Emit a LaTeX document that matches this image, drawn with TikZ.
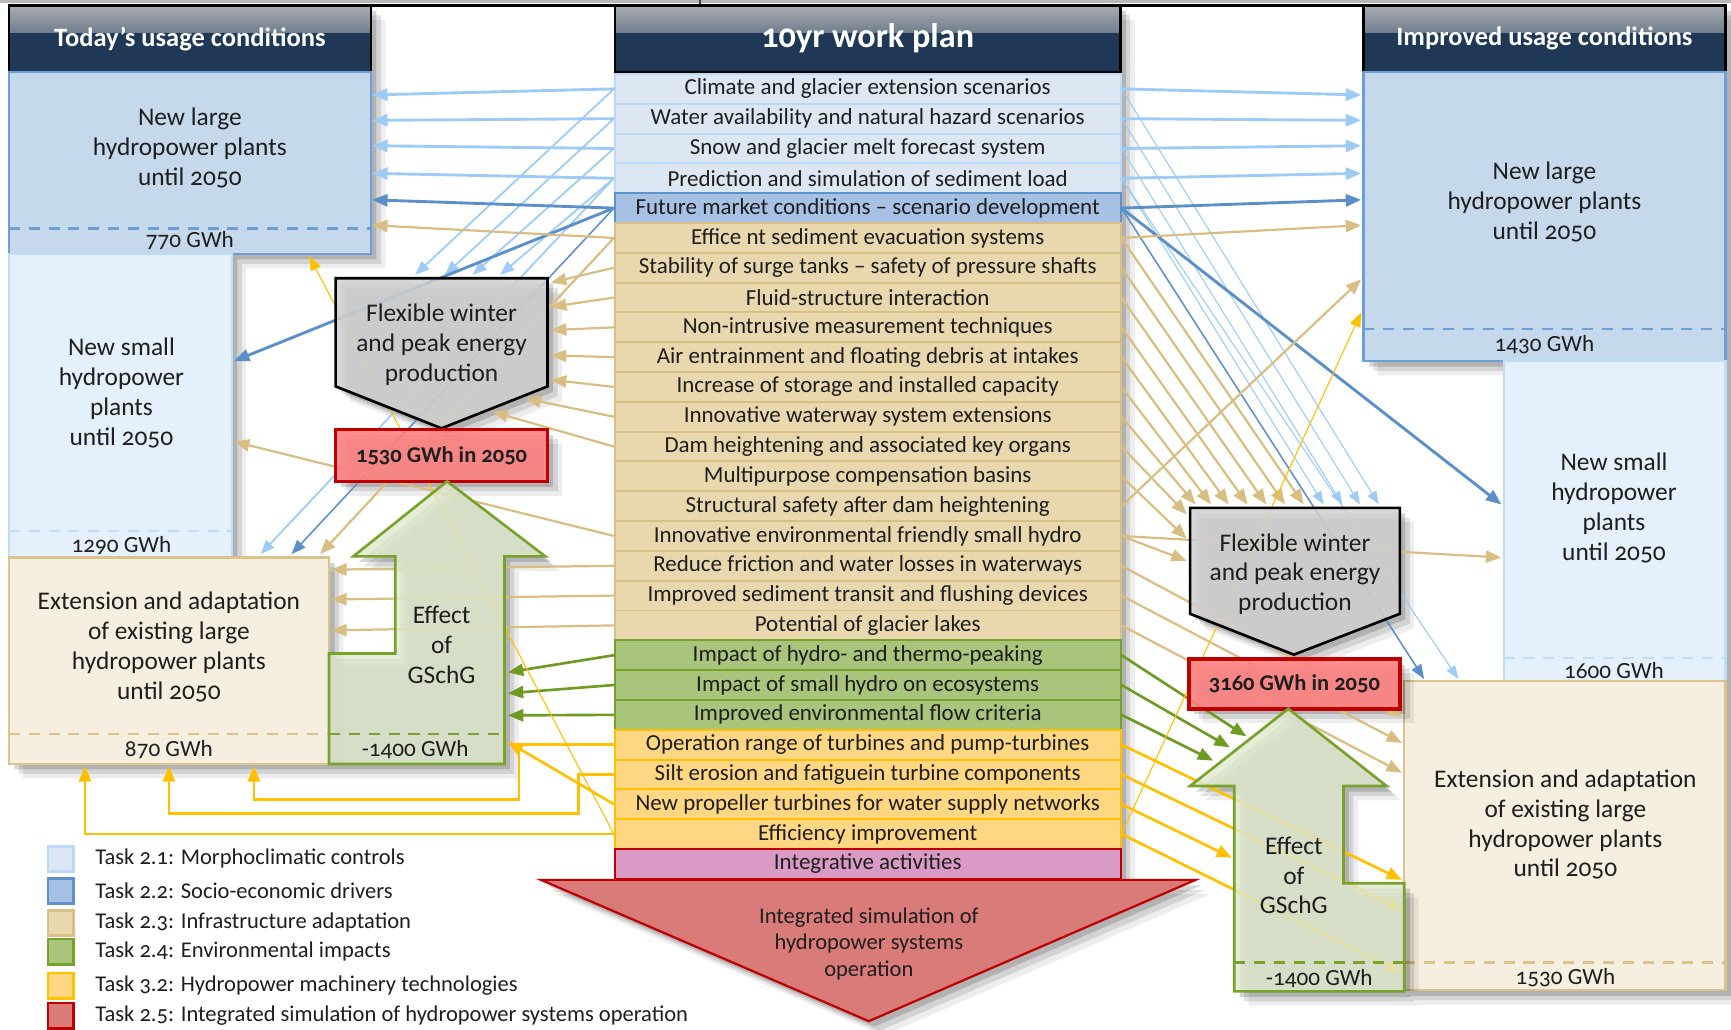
\documentclass[tikz,border=0pt]{standalone}
\usepackage{fontspec}
\setmainfont{Carlito}[Numbers=OldStyle]
\usetikzlibrary{arrows.meta,shadows,calc}

% palette
\definecolor{txt}{HTML}{1E1E1E}
\definecolor{hdrtop}{HTML}{A9ADB3}
\definecolor{hdrbot}{HTML}{1F3856}
\definecolor{c21f}{HTML}{DDE7F4}\definecolor{c21d}{HTML}{BBDAF8}
\definecolor{c22f}{HTML}{A6C1E3}\definecolor{c22d}{HTML}{5E92CB}
\definecolor{c23f}{HTML}{E9D8AE}\definecolor{c23d}{HTML}{D8BF86}
\definecolor{c24f}{HTML}{A9C47B}\definecolor{c24d}{HTML}{76A12B}
\definecolor{c32f}{HTML}{FFD782}\definecolor{c32d}{HTML}{FFC000}
\definecolor{cintf}{HTML}{D99BC6}
\definecolor{c25f}{HTML}{D97B79}\definecolor{c25d}{HTML}{C00000}
\definecolor{nlfill}{HTML}{C5D8EC}\definecolor{nlline}{HTML}{6C9FD3}
\definecolor{nsfill}{HTML}{E4F0FC}\definecolor{nsline}{HTML}{BFDDF9}
\definecolor{exfill}{HTML}{F6EFDF}\definecolor{exline}{HTML}{DCC38C}
\definecolor{gsfill}{HTML}{DFE8CC}\definecolor{gsline}{HTML}{77A22C}
\definecolor{pentfill}{HTML}{D0D0D0}
\definecolor{redfill}{HTML}{FF7F7F}
\definecolor{lbA}{HTML}{9DCBF6}
\definecolor{dbA}{HTML}{5B8FC9}
\definecolor{tanA}{HTML}{D9BE83}
\definecolor{grA}{HTML}{6E9C22}
\definecolor{yeA}{HTML}{FFC000}

% outlines of the free-standing shapes
\newcommand\shpPentL{(304,252) -- (496,252) -- (496,350) -- (400,388) -- (304,350) -- cycle}
\newcommand\shpPentR{(1078,460) -- (1268,460) -- (1268,556) -- (1172,593) -- (1078,556) -- cycle}
\newcommand\shpGsL{(405,436) -- (494,504) -- (457,504) -- (457,692) -- (298,692) -- (298,592) -- (358,592) -- (358,504) -- (320,504) -- cycle}
\newcommand\shpGsR{(1167,642) -- (1256,712) -- (1217,712) -- (1217,800) -- (1272,800) -- (1272,898) -- (1118,898) -- (1118,712) -- (1078,712) -- cycle}
\newcommand\shpRedL{(304,389) rectangle (496,436)}
\newcommand\shpRedR{(1077,597) rectangle (1268,642)}

\begin{document}
\begin{tikzpicture}[x=0.5pt,y=-0.5pt,
  every node/.style={text=txt},
  sh/.style={drop shadow={shadow xshift=2.5pt,shadow yshift=-2.5pt,opacity=.16,fill=black},
             drop shadow={shadow xshift=4.5pt,shadow yshift=-4.5pt,opacity=.11,fill=black},
             drop shadow={shadow xshift=6.5pt,shadow yshift=-6.5pt,opacity=.07,fill=black}},
  hdr/.style={draw=black,line width=1pt,fill=hdrbot,text=white,inner sep=0pt,
    font=\bfseries\fontsize{12}{14}\selectfont,
    path picture={\shade[top color=hdrtop,bottom color=hdrbot]
      (path picture bounding box.north west) rectangle ([yshift=-12pt]path picture bounding box.north east);}},
  rowbase/.style={minimum width=229pt,minimum height=13.5pt,inner sep=0pt,line width=0.9pt,
    font=\fontsize{10.4}{12}\selectfont},
  box/.style={line width=1pt,inner sep=0pt},
  btxt/.style={align=center,font=\fontsize{11.5}{13.5}\selectfont},
  gwh/.style={font=\fontsize{10.5}{12}\selectfont},
  cut/.style={dash pattern=on 5pt off 4pt,line width=1.2pt},
  redbox/.style={fill=redfill,fill opacity=.88,text opacity=1,draw=c25d,line width=1.6pt,
    inner sep=0pt,font=\bfseries\fontsize{10.2}{12}\selectfont},
  legsq/.style={minimum size=11.5pt,inner sep=0pt,line width=1.2pt},
  legtxt/.style={anchor=west,inner sep=0pt,font=\fontsize{10.2}{12}\selectfont},
  lbw/.style={draw=lbA,line width=1.3pt,-{Triangle[length=7pt,width=5.5pt]}},
  lbn/.style={draw=lbA,line width=0.8pt,-{Triangle[length=6.5pt,width=5pt]}},
  lbh/.style={draw=lbA,line width=0.5pt,-{Triangle[length=6pt,width=4.5pt]}},
  dbw/.style={draw=dbA,line width=1.3pt,-{Triangle[length=7pt,width=5.5pt]}},
  dbn/.style={draw=dbA,line width=0.7pt,-{Triangle[length=6.5pt,width=5pt]}},
  tn/.style={draw=tanA,line width=1pt,-{Triangle[length=7pt,width=5.5pt]}},
  gr/.style={draw=grA,line width=1.2pt,-{Triangle[length=7pt,width=5.5pt]}},
  ye/.style={draw=yeA,line width=1.2pt,-{Triangle[length=7pt,width=5.5pt]}},
  yeh/.style={draw=yeA,line width=0.5pt,-{Triangle[length=6.5pt,width=5pt]}}
]
\useasboundingbox (0,0) rectangle (1568,933);

% thin strip along the top edge
\fill[black!28] (0,0) rectangle (1568,3);
\draw[black!75,line width=.8pt] (634,0) -- (634,4);

% backing panels carrying the soft shadows
\path[sh,fill=white] (8,5) -- (336,5) -- (336,230) -- (210,230) -- (210,505) -- (298,505) -- (298,692) -- (8,692) -- cycle;
\path[sh,fill=white] (557,5) rectangle (1015,796);
\path[sh,fill=white] (1235,5) -- (1563,5) -- (1563,897) -- (1272,897) -- (1272,617) -- (1362,617) -- (1362,327) -- (1235,327) -- cycle;
\draw[line width=1pt] (336,5) -- (1235,5);

% column headers
\node[hdr,minimum width=164pt,minimum height=30pt] (hdrL) at (172,35) {Today’s usage conditions};
\node[hdr,minimum width=229pt,minimum height=30pt,font=\bfseries\fontsize{15.5}{18}\selectfont] (hdrM) at (786,35) {10yr work plan};
\node[hdr,minimum width=164pt,minimum height=30pt] (hdrR) at (1399,35) {Improved usage conditions};

% today's usage conditions
\node[box,fill=nlfill,draw=nlline,minimum width=164pt,minimum height=82.5pt] (nlL) at (172,147.5) {};
\node[btxt] (nlLt) at (172,134) {New large\\hydropower plants\\until 2050};
\draw[cut,draw=nlline] (8,207) -- (336,207);
\node[gwh] (nlLg) at (172,218) {770 GWh};

\node[box,fill=nsfill,draw=nsline,minimum width=101pt,minimum height=137.5pt] (nsL) at (109,367.5) {};
\node[btxt] (nsLt) at (110,356) {New small\\hydropower\\plants\\until 2050};
\draw[cut,draw=nsline] (8,481) -- (210,481);
\node[gwh] (nsLg) at (110,494) {1290 GWh};

\node[box,fill=exfill,draw=exline,minimum width=145pt,minimum height=93.5pt] (exL) at (153,598.5) {};
\node[btxt] (exLt) at (153,586) {Extension and adaptation\\of existing large\\hydropower plants\\until 2050};
\draw[cut,draw=exline] (8,665) -- (298,665);
\node[gwh] (exLg) at (153,679) {870 GWh};

% improved usage conditions
\node[box,fill=nlfill,draw=nlline,minimum width=164pt,minimum height=131pt] (nlR) at (1399,196) {};
\node[btxt] (nlRt) at (1399,183) {New large\\hydropower plants\\until 2050};
\draw[cut,draw=nlline] (1235,298) -- (1563,298);
\node[gwh] (nlRg) at (1399,312) {1430 GWh};

\node[box,fill=nsfill,draw=nsline,minimum width=100.5pt,minimum height=145pt] (nsR) at (1462.5,472) {};
\node[btxt] (nsRt) at (1462,460) {New small\\hydropower\\plants\\until 2050};
\draw[cut,draw=nsline] (1362,596) -- (1563,596);
\node[gwh] (nsRg) at (1462,607) {1600 GWh};

\node[box,fill=exfill,draw=exline,minimum width=145.5pt,minimum height=140pt] (exR) at (1417.5,757) {};
\node[btxt] (exRt) at (1418,747) {Extension and adaptation\\of existing large\\hydropower plants\\until 2050};
\draw[cut,draw=exline] (1272,872) -- (1563,872);
\node[gwh] (exRg) at (1418,886) {1530 GWh};

% work plan rows
\foreach \i/\f/\d/\t in {
  1/c21f/c21d/Climate and glacier extension scenarios,
  2/c21f/c21d/Water availability and natural hazard scenarios,
  3/c21f/c21d/Snow and glacier melt forecast system,
  4/c21f/c21d/Prediction and simulation of sediment load,
  5/c22f/c22d/Future market conditions – scenario development,
  6/c23f/c23d/Effice nt sediment evacuation systems,
  7/c23f/c23d/Stability of surge tanks – safety of pressure shafts,
  8/c23f/c23d/Fluid-structure interaction,
  9/c23f/c23d/Non-intrusive measurement techniques,
  10/c23f/c23d/Air entrainment and floating debris at intakes,
  11/c23f/c23d/Increase of storage and installed capacity,
  12/c23f/c23d/Innovative waterway system extensions,
  13/c23f/c23d/Dam heightening and associated key organs,
  14/c23f/c23d/Multipurpose compensation basins,
  15/c23f/c23d/Structural safety after dam heightening,
  16/c23f/c23d/Innovative environmental friendly small hydro,
  17/c23f/c23d/Reduce friction and water losses in waterways,
  18/c23f/c23d/Improved sediment transit and flushing devices,
  19/c23f/c23d/Potential of glacier lakes,
  20/c24f/c24d/Impact of hydro- and thermo-peaking,
  21/c24f/c24d/Impact of small hydro on ecosystems,
  22/c24f/c24d/Improved environmental flow criteria,
  23/c32f/c32d/Operation range of turbines and pump-turbines,
  24/c32f/c32d/Silt erosion and fatiguein turbine components,
  25/c32f/c32d/New propeller turbines for water supply networks,
  26/c32f/c32d/Efficiency improvement,
  27/cintf/c25d/Integrative activities}
  \node[rowbase,fill=\f,draw=\d] (r\i) at (786,{80.5+27*(\i-1)}) {\t};

% integrated simulation arrow
\filldraw[sh,fill=c25f,draw=c25d,line width=1pt] (490,797) -- (1083,797) -- (787,925) -- cycle;
\node[align=center,font=\fontsize{10.2}{12}\selectfont] (isim) at (787,855) {Integrated simulation of\\hydropower systems\\operation};

% legend
\foreach \i/\y/\f/\d/\t in {
  1/778/c21f/c21d/Task 2.1: Morphoclimatic controls,
  2/807/c22f/c22d/Task 2.2: Socio-economic drivers,
  3/836/c23f/c23d/Task 2.3: Infrastructure adaptation,
  4/862/c24f/c24d/Task 2.4: Environmental impacts,
  5/893/c32f/c32d/Task 3.2: Hydropower machinery technologies,
  6/920/c25f/c25d/Task 2.5: Integrated simulation of hydropower systems operation}
{
  \node[legsq,fill=\f,draw=\d] (k\i) at (55,\y) {};
  \node[legtxt] (kt\i) at (86,\y) {\t};
}

% shadows of the free-standing shapes
\path[sh] \shpPentL; \path[sh] \shpRedL; \path[sh] \shpGsL;
\path[sh] \shpPentR; \path[sh] \shpRedR; \path[sh] \shpGsR;

% arrow end points
\foreach \n/\x/\y in {
  L1/337/86, L2/337/109, L3/337/132, L4/337/157, L5/337/181, L6/337/204,
  P1/376/249, P2/403/249, P3/428/249, P4/453/249,
  N5/212/327, N16/212/400,
  E4/236/502, E5/264/502, E6/290/502,
  Q7/499/256, Q8/499/278, Q9/499/299, Q10/499/322, Q11/499/344, Q12/476/361, Q13/446/373,
  X17/300/516, X18/300/543, X19/300/571,
  G20/460/609, G21/460/628, G22/460/648,
  YL25/460/672, BL1/230/694, BL2/153/694, BL3/77/694, AL26/280/232,
  R1/1233/86, R2/1233/109, R3/1233/132, R4/1233/157, R5/1233/181, R6/1233/204,
  R15/1233/253, AR26/1233/283,
  S1/1249/457, S2/1232/457, S3/1216/457, S4/1199/457,
  T6/1181/457, T7/1164/457, T8/1147/457, T9/1130/457, T10/1113/457, T11/1097/457, T12/1083/457,
  U13/1075/466, U14/1075/488, U16/1075/508,
  V5/1360/457, V16/1360/505, W4/1321/615, W5/1290/615,
  Z17/1270/649, Z18/1270/673, Z19/1270/700,
  H20/1129/667, H21/1114/677, H22/1099/689,
  YR23/1270/797, YR24/1270/824, YR25/1116/777, YR26/1270/881}
  \coordinate (\n) at (\x,\y);

% connectors towards today's usage conditions
\foreach \r in {1,2,3,4} {\draw[lbw] (r\r.west) -- (L\r); \draw[lbn] (r\r.west) -- (P\r);}
\draw[lbn] (r4.west) -- (E4);
\draw[dbw] (r5.west) -- (L5);
\draw[dbw] (r5.west) -- (N5);
\draw[dbn] (r5.west) -- (E5);
\draw[tn] (r6.west) -- (L6);
\draw[tn] (r6.west) -- (E6);
\foreach \r in {7,...,13} \draw[tn] (r\r.west) -- (Q\r);
\draw[tn] (r16.west) -- (N16);
\foreach \r in {17,18,19} \draw[tn] (r\r.west) -- (X\r);
\foreach \r in {20,21,22} \draw[gr] (r\r.west) -- (G\r);
\draw[ye] (r23.west) -- ++(-86,0) |- (230,724) -- (BL1);
\draw[ye] (r24.west) -- ++(-32,0) |- (153,737) -- (BL2);
\draw[ye] (r26.west) -| (BL3);
\draw[ye] (r25.west) -- (YL25);
\draw[yeh] (r26.west) -- (AL26);

% connectors towards improved usage conditions
\foreach \r in {1,2,3,4} {\draw[lbw] (r\r.east) -- (R\r); \draw[lbh] (r\r.east) -- (S\r);}
\draw[lbh] (r4.east) -- (W4);
\draw[dbw] (r5.east) -- (R5);
\draw[dbw] (r5.east) -- (V5);
\draw[dbn] (r5.east) -- (W5);
\draw[tn] (r6.east) -- (R6);
\draw[tn] (r15.east) -- (R15);
\foreach \r in {6,...,12} \draw[tn] (r\r.east) -- (T\r);
\draw[tn] (r13.east) -- (U13);
\draw[tn] (r14.east) -- (U14);
\draw[tn] (r16.east) -- (U16);
\draw[tn] (r16.east) -- (V16);
\foreach \r in {17,18,19} \draw[tn] (r\r.east) -- (Z\r);
\foreach \r in {20,21,22} \draw[gr] (r\r.east) -- (H\r);
\foreach \r in {23,24,25,26} \draw[ye] (r\r.east) -- (YR\r);
\draw[yeh] (r26.east) -- (AR26);

% flexible production and GSchG shapes, left
\filldraw[fill=pentfill,fill opacity=.85,draw=black,line width=1.2pt] \shpPentL;
\node[btxt] (fwL) at (400,312) {Flexible winter\\and peak energy\\production};
\node[redbox,minimum width=96pt,minimum height=23.5pt] (redL) at (400,412.5) {1530 GWh in 2050};
\filldraw[fill=gsfill,fill opacity=.8,draw=gsline,line width=1.2pt] \shpGsL;
\draw[cut,draw=gsline] (298,665) -- (457,665);
\node[btxt] (gsLt) at (400,584) {Effect\\of\\GSchG};
\node[gwh] (gsLg) at (376,679) {-1400 GWh};

% flexible production and GSchG shapes, right
\filldraw[fill=pentfill,fill opacity=.85,draw=black,line width=1.2pt] \shpPentR;
\node[btxt] (fwR) at (1173,520) {Flexible winter\\and peak energy\\production};
\node[redbox,minimum width=95.5pt,minimum height=22.5pt] (redR) at (1172.5,619.5) {3160 GWh in 2050};
\filldraw[fill=gsfill,fill opacity=.8,draw=gsline,line width=1.2pt] \shpGsR;
\draw[cut,draw=gsline] (1118,872) -- (1272,872);
\node[btxt] (gsRt) at (1172,793) {Effect\\of\\GSchG};
\node[gwh] (gsRg) at (1195,886) {-1400 GWh};
\end{tikzpicture}
\end{document}
